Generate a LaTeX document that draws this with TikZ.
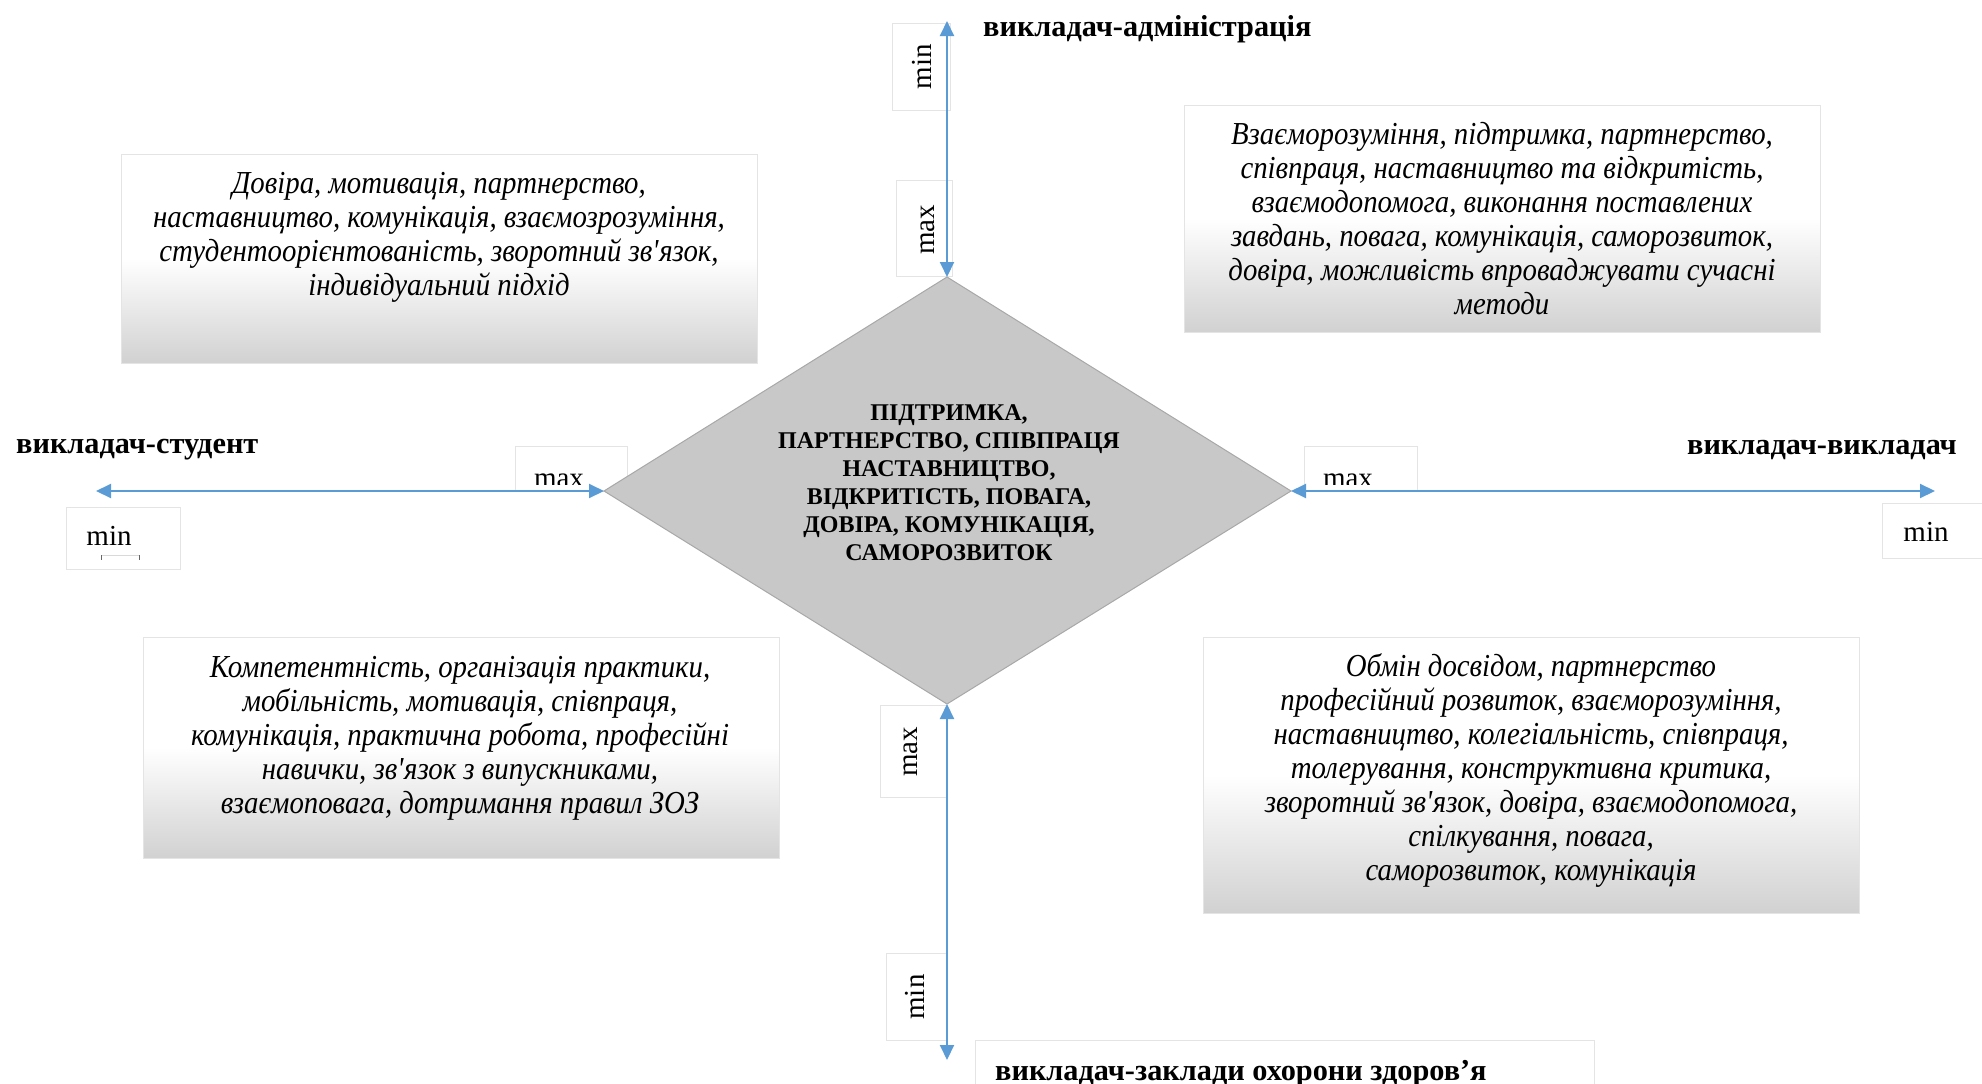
\documentclass[tikz,border=0pt]{standalone}
\usepackage{fontspec}
\setmainfont{Liberation Serif}
\newfontfamily\narrowitalic[FakeStretch=0.9]{Liberation Serif Italic}
\usetikzlibrary{arrows.meta}

\definecolor{axisblue}{HTML}{5B9BD5}
\definecolor{corefill}{HTML}{C8C8C8}
\definecolor{coreline}{HTML}{A8A8A8}
\definecolor{frameline}{HTML}{E4E4E4}

\tikzset{
  axisline/.style={draw=axisblue, line width=2pt,
    {Triangle[length=15pt,width=14pt]}-{Triangle[length=15pt,width=14pt]}},
  tag/.style={draw=frameline, line width=1pt, fill=white, inner sep=0pt},
  tagtext/.style={font=\fontsize{29}{33}\selectfont, inner sep=0pt},
  axistitle/.style={font=\fontsize{30.3}{34}\selectfont\bfseries, inner sep=0pt},
  notebox/.style={draw=frameline, line width=1pt, inner sep=0pt,
    top color=white, bottom color=black!18, middle color=white},
  notetext/.style={font=\narrowitalic\fontsize{32}{34}\selectfont, align=center, inner sep=0pt},
  coretext/.style={font=\fontsize{24}{28}\selectfont\bfseries, align=center, inner sep=0pt},
}

\begin{document}
\begin{tikzpicture}[x=1pt, y=-1pt]
\useasboundingbox (0,0) rectangle (1982,1084);
\clip (0,0) rectangle (1982,1084);

% diamond vertices and free ends of the axes
\coordinate (dT) at (947,277);
\coordinate (dB) at (947,704);
\coordinate (dL) at (604,491);
\coordinate (dR) at (1291,491);
\coordinate (endTop) at (947,21);
\coordinate (endBottom) at (947,1060);
\coordinate (endLeft) at (96,491);
\coordinate (endRight) at (1935,491);

% description boxes
\node[notebox, minimum width=636pt, minimum height=209pt] (boxTL) at (439,258.5) {};
\node[notebox, minimum width=636pt, minimum height=227pt] (boxTR) at (1502,218.5) {};
\node[notebox, minimum width=636pt, minimum height=221pt] (boxBL) at (461,747.5) {};
\node[notebox, minimum width=656pt, minimum height=276pt] (boxBR) at (1531,775) {};

% min / max tags
\node[tag, minimum width=58pt, minimum height=87pt] (tagTopMin) at (921,66.5) {};
\node[tag, minimum width=56pt, minimum height=96pt] (tagTopMax) at (924,228) {};
\node[tag, minimum width=67pt, minimum height=92pt] (tagBotMax) at (913.5,751) {};
\node[tag, minimum width=61pt, minimum height=87pt] (tagBotMin) at (916.5,996.5) {};
\node[tag, minimum width=112pt, minimum height=45pt] (tagLeftMax) at (571,468.5) {};
\node[tag, minimum width=114pt, minimum height=62pt] (tagLeftMin) at (123,538) {};
\node[tag, minimum width=113pt, minimum height=45pt] (tagRightMax) at (1360.5,468.5) {};
\node[tag, minimum width=110pt, minimum height=55pt] (tagRightMin) at (1937,530.5) {};
\node[tag, minimum width=619pt, minimum height=60pt] (tagBottom) at (1284.5,1070) {};

% central diamond
\path[draw=coreline, line width=1pt, fill=corefill] (dT) -- (dR) -- (dB) -- (dL) -- cycle;
\node[coretext] (core) at (949,483) {ПІДТРИМКА,\\ПАРТНЕРСТВО, СПІВПРАЦЯ\\НАСТАВНИЦТВО,\\ВІДКРИТІСТЬ, ПОВАГА,\\ДОВІРА, КОМУНІКАЦІЯ,\\САМОРОЗВИТОК};

% axes
\draw[axisline] (endTop) -- (dT);
\draw[axisline] (dB) -- (endBottom);
\draw[axisline] (endLeft) -- (dL);
\draw[axisline] (dR) -- (endRight);

% tag labels
\node[tagtext, rotate=90] (lblTopMin) at (922,67) {min};
\node[tagtext, rotate=90] (lblTopMax) at (928,230) {max};
\node[tagtext, rotate=90] (lblBotMax) at (911,752) {max};
\node[tagtext, rotate=90] (lblBotMin) at (915,997) {min};
\node[tagtext, anchor=base] (lblLeftMin) at (109,545) {min};
\node[tagtext, anchor=base] (lblRightMin) at (1926,541) {min};
\begin{scope}
  \clip (515,446) rectangle (627,484);
  \node[tagtext, anchor=base] (lblLeftMax) at (559,487) {max};
\end{scope}
\begin{scope}
  \clip (1304,446) rectangle (1417,484);
  \node[tagtext, anchor=base] (lblRightMax) at (1348,487) {max};
\end{scope}
% small empty field mark under the left "min"
\draw[black!15, line width=0.8pt] (101,555) -- (139,555);
\draw[black!60, line width=0.8pt] (101,555) -- (101,560) (139,555) -- (139,560);

% axis titles
\node[axistitle, anchor=west] (titleTop) at (983,29) {викладач-адміністрація};
\node[axistitle, anchor=west] (titleLeft) at (16,450) {викладач-студент};
\node[axistitle, anchor=east] (titleRight) at (1957,450) {викладач-викладач};
\node[axistitle, anchor=base west] (titleBottom) at (995,1080) {викладач-заклади охорони здоров’я};

% box texts
\node[notetext] (txtTL) at (439,237) {Довіра, мотивація, партнерство,\\наставництво, комунікація, взаємозрозуміння,\\студентоорієнтованість, зворотний зв\textquotesingle язок,\\індивідуальний підхід};
\node[notetext] (txtTR) at (1502,219) {Взаєморозуміння, підтримка, партнерство,\\співпраця, наставництво та відкритість,\\взаємодопомога, виконання поставлених\\завдань, повага, комунікація, саморозвиток,\\довіра, можливість впроваджувати сучасні\\методи};
\node[notetext] (txtBL) at (460,738) {Компетентність, організація практики,\\мобільність, мотивація, співпраця,\\комунікація, практична робота, професійні\\навички, зв\textquotesingle язок з випускниками,\\взаємоповага, дотримання правил ЗОЗ};
\node[notetext] (txtBR) at (1531,770) {Обмін досвідом, партнерство\\професійний розвиток, взаєморозуміння,\\наставництво, колегіальність, співпраця,\\толерування, конструктивна критика,\\зворотний зв\textquotesingle язок, довіра, взаємодопомога,\\спілкування, повага,\\саморозвиток, комунікація};
\end{tikzpicture}
\end{document}
